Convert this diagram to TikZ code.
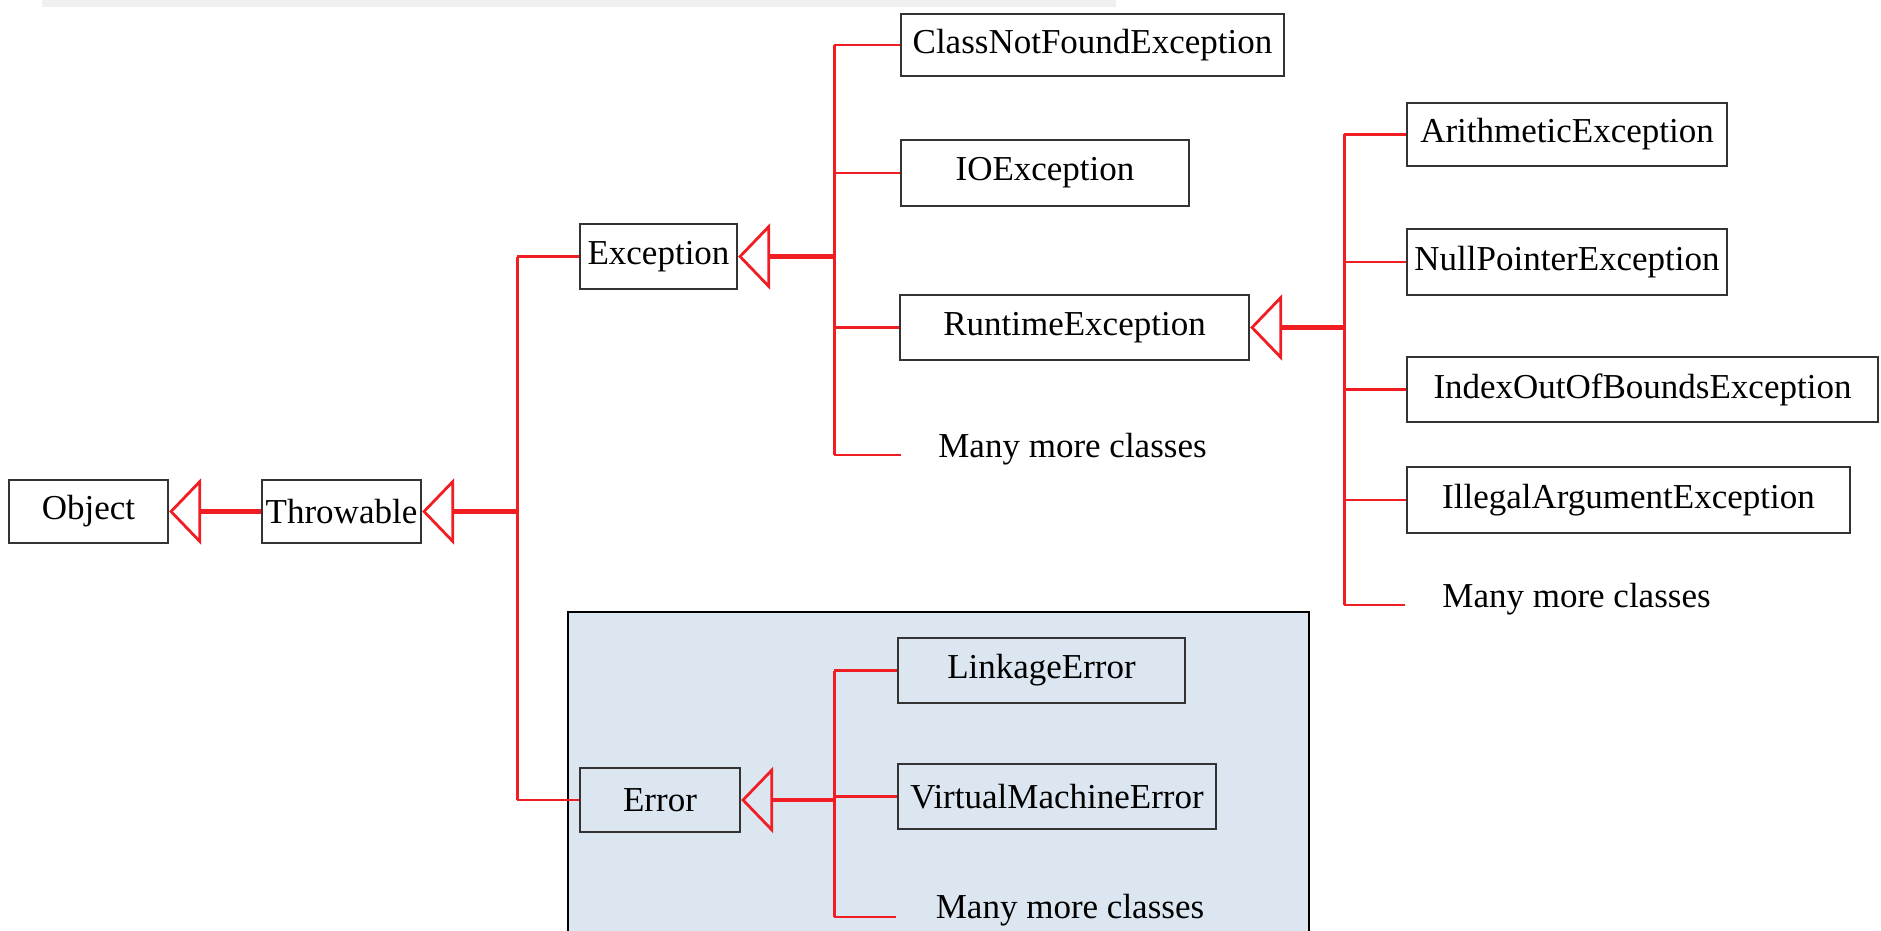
\documentclass[tikz,border=0pt]{standalone}
\usepackage{fontspec}
\setmainfont{Liberation Serif}
\usetikzlibrary{arrows.meta}
\definecolor{linkred}{RGB}{240,30,35}
\definecolor{panelfill}{RGB}{220,230,240}
\begin{document}
\begin{tikzpicture}[x=1pt,y=-1pt,
  font=\fontsize{35}{40}\selectfont,
  classbox/.style={draw=black!80, line width=2.2pt, inner sep=0pt, anchor=center},
  plain/.style={inner sep=0pt, anchor=center},
  branch/.style={draw=linkred, line width=2.8pt},
  trunk/.style={draw=linkred, line width=3pt},
  inherit/.style={draw=linkred, line width=4.2pt,
    -{Triangle[open, length=32pt, width=66pt, line width=2.8pt]}}]

\useasboundingbox (0,0) rectangle (1881,931);

% faint strip along the top edge
\fill[black!6] (42,0) rectangle (1116,7);

% shaded panel grouping the Error branch
\draw[fill=panelfill, line width=2.5pt] (568,612) rectangle (1309,945);

% class boxes
\node[classbox, minimum width=159pt, minimum height=63pt] (obj) at (88.5,511.5) {Object};
\node[classbox, minimum width=159pt, minimum height=63pt] (thr) at (341.5,511.5) {Throwable};
\node[classbox, minimum width=157pt, minimum height=65pt] (exc) at (658.5,256.5) {Exception};
\node[classbox, minimum width=160pt, minimum height=64pt] (err) at (660,800) {Error};

\node[classbox, minimum width=383pt, minimum height=62pt] (cnf) at (1092.5,45) {ClassNotFoundException};
\node[classbox, minimum width=288pt, minimum height=66pt] (ioe) at (1045,173) {IOException};
\node[classbox, minimum width=349pt, minimum height=65pt] (rte) at (1074.5,327.5) {RuntimeException};
\node[plain] (mexc) at (1072.5,449) {Many more classes};

\node[classbox, minimum width=320pt, minimum height=63pt] (ari) at (1567,134.5) {ArithmeticException};
\node[classbox, minimum width=320pt, minimum height=66pt] (npe) at (1567,262) {NullPointerException};
\node[classbox, minimum width=471pt, minimum height=65pt] (ioob) at (1642.5,389.5) {IndexOutOfBoundsException};
\node[classbox, minimum width=443pt, minimum height=66pt] (iae) at (1628.5,500) {IllegalArgumentException};
\node[plain] (mrte) at (1576.5,599) {Many more classes};

\node[classbox, minimum width=287pt, minimum height=65pt] (lnk) at (1041.5,670.5) {LinkageError};
\node[classbox, minimum width=318pt, minimum height=65pt] (vme) at (1057,796.5) {VirtualMachineError};
\node[plain] (merr) at (1070,910) {Many more classes};

% junction points of the inheritance trees
\coordinate (jthr) at (517,511.5);
\coordinate (jexc) at (834,256.5);
\coordinate (jrte) at (1344,327.5);
\coordinate (jerr) at (834,800);
\coordinate (eexc) at (901,455);
\coordinate (erte) at (1405,605);
\coordinate (eerr) at (896,917);

% Throwable extends Object
\draw[inherit] (thr.west) -- (obj.east);

% Exception and Error extend Throwable
\draw[trunk] (jthr |- exc.west) -- (jthr |- err.west);
\draw[branch] (jthr |- exc.west) -- (exc.west);
\draw[branch] (jthr |- err.west) -- (err.west);
\draw[inherit] (jthr) -- (thr.east);

% subclasses of Exception
\draw[trunk] (jexc |- cnf.west) -- (jexc |- eexc);
\draw[branch] (jexc |- cnf.west) -- (cnf.west);
\draw[branch] (jexc |- ioe.west) -- (ioe.west);
\draw[branch] (jexc |- rte.west) -- (rte.west);
\draw[branch] (jexc |- eexc) -- (eexc);
\draw[inherit] (jexc) -- (exc.east);

% subclasses of RuntimeException
\draw[trunk] (jrte |- ari.west) -- (jrte |- erte);
\draw[branch] (jrte |- ari.west) -- (ari.west);
\draw[branch] (jrte |- npe.west) -- (npe.west);
\draw[branch] (jrte |- ioob.west) -- (ioob.west);
\draw[branch] (jrte |- iae.west) -- (iae.west);
\draw[branch] (jrte |- erte) -- (erte);
\draw[inherit] (jrte) -- (rte.east);

% subclasses of Error
\draw[trunk] (jerr |- lnk.west) -- (jerr |- eerr);
\draw[branch] (jerr |- lnk.west) -- (lnk.west);
\draw[branch] (jerr |- vme.west) -- (vme.west);
\draw[branch] (jerr |- eerr) -- (eerr);
\draw[inherit] (jerr) -- (err.east);
\end{tikzpicture}
\end{document}
